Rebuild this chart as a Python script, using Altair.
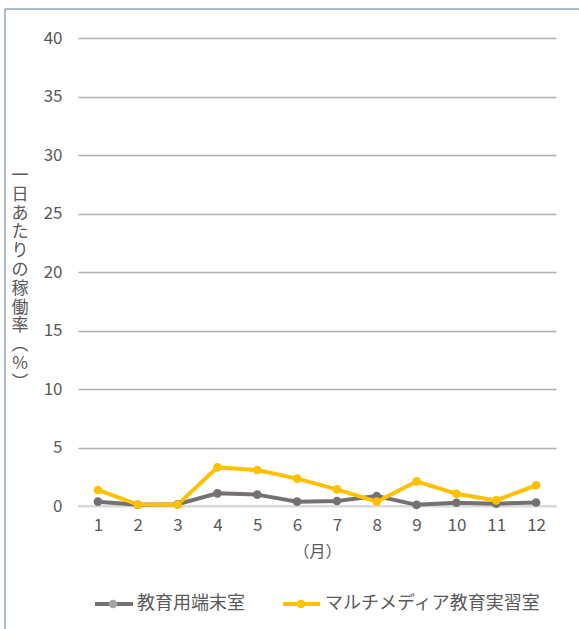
import altair as alt
import pandas as pd

# Monthly daily utilisation rate (%) for two rooms
months = [1, 2, 3, 4, 5, 6, 7, 8, 9, 10, 11, 12]
terminal_room = [0.37, 0.1, 0.15, 1.08, 0.97, 0.37, 0.43, 0.85, 0.1, 0.28, 0.2, 0.3]
multimedia_room = [1.37, 0.12, 0.12, 3.3, 3.08, 2.34, 1.42, 0.37, 2.1, 1.05, 0.48, 1.77]
series_names = ["教育用端末室", "マルチメディア教育実習室"]
y_ticks = [0, 5, 10, 15, 20, 25, 30, 35, 40]

FONT = "Noto Sans CJK JP"
TEXT_COLOR = "#595959"

df = pd.DataFrame({
    "month": [str(m) for m in months] * 2,
    "rate": terminal_room + multimedia_room,
    "series": [series_names[0]] * 12 + [series_names[1]] * 12,
})

W, H = 478, 468
y_scale = alt.Scale(domain=[0, 40], nice=False)

x_enc = alt.X("month:N", sort=[str(m) for m in months],
              scale=alt.Scale(type="point", padding=0.5),
              axis=alt.Axis(title="（月）", labelAngle=0, labelFontSize=17,
                            labelColor=TEXT_COLOR, labelFont=FONT, labelPadding=11,
                            titleFont=FONT, titleFontSize=16, titleColor=TEXT_COLOR,
                            titleFontWeight="normal", titlePadding=10,
                            domain=False, ticks=False, grid=False))
y_enc = alt.Y("rate:Q", scale=y_scale,
              axis=alt.Axis(title=None, values=y_ticks, labelFontSize=17,
                            labelColor=TEXT_COLOR, labelFont=FONT, labelPadding=16,
                            domain=False, ticks=False, grid=True,
                            gridColor="#b0b0b0", gridWidth=1.5))

line_colors = alt.Scale(domain=series_names, range=["#767171", "#FFC000"])
point_colors = alt.Scale(domain=series_names, range=["#A5A5A5", "#FFC000"])

# light baseline at zero
base = alt.Chart(pd.DataFrame({"rate": [0]})).mark_rule(color="#d9d9d9", strokeWidth=2).encode(
    y=y_enc,
    x=alt.value(0), x2=alt.value(W),
)

lines = alt.Chart(df).mark_line(strokeWidth=4).encode(
    x=x_enc, y=y_enc,
    color=alt.Color("series:N", scale=line_colors, legend=None),
    detail="series:N",
)
points = alt.Chart(df).mark_point(filled=True, size=75, opacity=1).encode(
    x=x_enc, y=y_enc,
    color=alt.Color("series:N", scale=point_colors, legend=None),
)

# vertical y title, one character per line
y_title = alt.Chart(pd.DataFrame({"t": [0]})).mark_text(
    text=["一", "日", "あ", "た", "り", "の", "稼", "働", "率", "︵", "%", "︶"],
    font=FONT, fontSize=17, color=TEXT_COLOR, lineHeight=18.8,
    align="center", baseline="middle",
).encode(x=alt.value(-58), y=alt.value(138))

# outer frame (left and top edges)
frame_left = alt.Chart(pd.DataFrame({"t": [0]})).mark_rule(color="#8FA6C0", strokeWidth=1.5).encode(
    x=alt.value(-73), x2=alt.value(-73), y=alt.value(-29), y2=alt.value(600))
frame_top = alt.Chart(pd.DataFrame({"t": [0]})).mark_rule(color="#8FA6C0", strokeWidth=1.5).encode(
    x=alt.value(-73), x2=alt.value(520), y=alt.value(-29), y2=alt.value(-29))

# legend drawn below the plot
LY = 98 + H
legend_rows = pd.DataFrame({
    "name": series_names,
    "x0": [17, 205], "x1": [55, 242], "xc": [35, 223], "xt": [59, 247],
    "lc": ["#767171", "#FFC000"], "pc": ["#A5A5A5", "#FFC000"],
})
px = alt.Scale(domain=[0, W], range=[0, W])
leg_lines = alt.Chart(legend_rows).mark_rule(strokeWidth=4).encode(
    x=alt.X("x0:Q", scale=px, axis=None),
    x2="x1:Q",
    y=alt.value(LY),
    color=alt.Color("lc:N", scale=None),
)
leg_points = alt.Chart(legend_rows).mark_point(filled=True, size=75, opacity=1).encode(
    x=alt.X("xc:Q", scale=px, axis=None),
    y=alt.value(LY),
    color=alt.Color("pc:N", scale=None),
)
leg_text = alt.Chart(legend_rows).mark_text(
    font=FONT, fontSize=18, color=TEXT_COLOR, align="left", baseline="middle").encode(
    x=alt.X("xt:Q", scale=px, axis=None),
    y=alt.value(LY),
    text="name:N",
)

main = alt.layer(base, lines, points)
chart = alt.layer(main, y_title, frame_left, frame_top, leg_lines, leg_points, leg_text).resolve_scale(
    x="independent"
).properties(
    width=W, height=H,
    background="white",
    autosize=alt.AutoSizeParams(type="none"),
    padding={"left": 78, "top": 38, "right": 23, "bottom": 123},
).configure_view(
    strokeWidth=0
)

chart.save("out.html", embed_options={"renderer": "svg", "actions": False})
